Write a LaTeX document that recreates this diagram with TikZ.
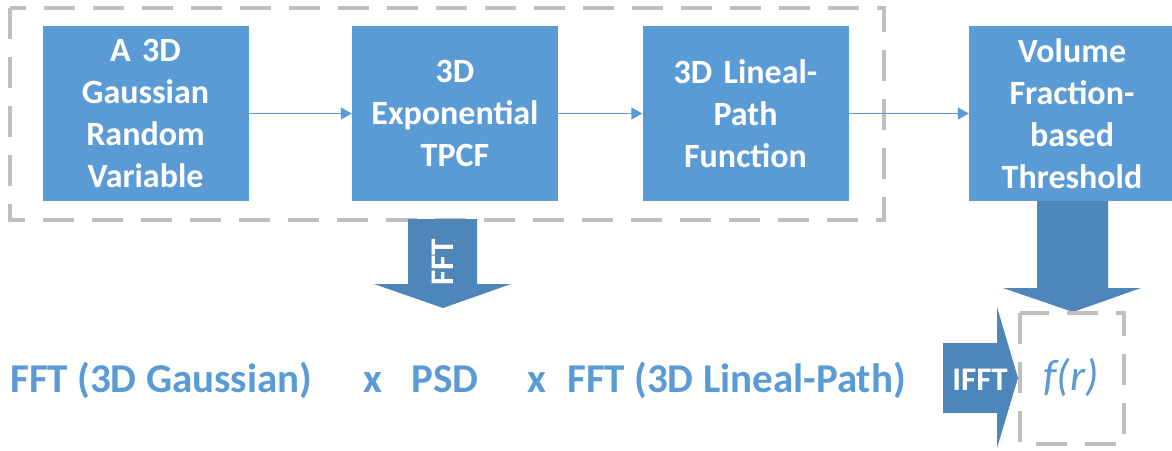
\documentclass[tikz,border=0pt]{standalone}
\usepackage{fontspec}
\setmainfont{Carlito}
\usetikzlibrary{arrows.meta}
\definecolor{boxblue}{HTML}{5B9BD5}
\definecolor{arrowblue}{HTML}{4E86B9}
\definecolor{dashgray}{HTML}{BFBFBF}
\begin{document}
\begin{tikzpicture}[x=1pt,y=-1pt,
  blk/.style={fill=boxblue, minimum width=206pt, minimum height=175pt, text width=200pt,
    align=center, text=white, inner sep=0pt, font=\fontsize{34}{42}\selectfont\bfseries},
  conn/.style={draw=boxblue, line width=1.4pt, -{Triangle[length=11pt,width=12pt]}},
  dashbox/.style={draw=dashgray, line width=3.6pt, dash pattern=on 31pt off 18pt},
  eqtext/.style={text=boxblue, inner sep=0pt, anchor=base west, font=\fontsize{41}{49}\selectfont\bfseries},
  blockarrow/.style={fill=arrowblue},
  arrowlbl/.style={text=white, inner sep=0pt, font=\fontsize{33}{38}\selectfont\bfseries}
]
\useasboundingbox (0,0) rectangle (1172,450);

% dashed group frame
\draw[dashbox] (10,8) rectangle (884,220);

% boxes
\node[blk] (b1) at (145.5,113.5) {A 3D\\Gaussian\\Random\\Variable};
\node[blk] (b2) at (455,113.5) {3D\\Exponential\\TPCF};
\node[blk] (b3) at (745.5,113.5) {3D Lineal-\\Path\\Function};
\node[blk] (b4) at (1072,113.5) {Volume\\Fraction-\\based\\Threshold};

% connectors
\draw[conn] (b1.east) -- (b2.west);
\draw[conn] (b2.east) -- (b3.west);
\draw[conn] (b3.east) -- (b4.west);

% FFT block arrow
\fill[blockarrow] (408,219) -- (477,219) -- (477,284) -- (511,284) -- (443,308)
  -- (374,284) -- (408,284) -- cycle;
\node[arrowlbl, rotate=90] (fftlbl) at (443,262) {FFT};

% threshold block arrow
\fill[blockarrow] (1037,201) -- (1108,201) -- (1108,288) -- (1141,288) -- (1073,312)
  -- (1003,288) -- (1037,288) -- cycle;

% IFFT block arrow
\fill[blockarrow] (943,343) -- (997,343) -- (997,307) -- (1018,378) -- (997,448)
  -- (997,413) -- (943,413) -- cycle;
\node[arrowlbl, anchor=base] (ifftlbl) at (980,390) {IFFT};

% result box
\draw[dashbox] (1020,313) rectangle (1124,444);
\node[text=boxblue, inner sep=0pt, anchor=base, font=\fontsize{44}{50}\selectfont\itshape] (fr) at (1071,390) {f(r)};

% equation
\node[eqtext] (t1) at (10,392) {FFT (3D Gaussian)};
\node[eqtext] (x1) at (363,392) {x};
\node[eqtext] (psd) at (411,392) {PSD};
\node[eqtext] (x2) at (527,392) {x};
\node[eqtext] (t2) at (567,392) {FFT (3D Lineal-Path)};
\end{tikzpicture}
\end{document}
